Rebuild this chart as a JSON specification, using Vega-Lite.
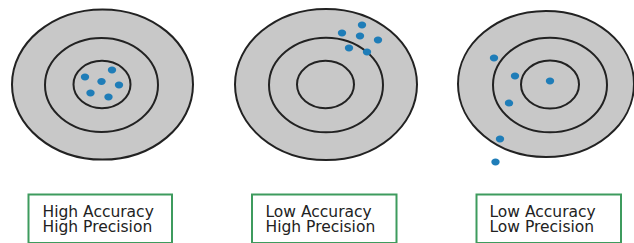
{
  "$schema": "https://vega.github.io/schema/vega-lite/v6.json",
  "width": 634,
  "height": 243,
  "padding": 0,
  "autosize": {"type": "none"},
  "background": "white",
  "config": {"view": {"stroke": null}},
  "datasets": {
    "rings": [
      {"target": "A", "cx": 102.5, "cy": 84.5, "r": 90.5},
      {"target": "A", "cx": 101.5, "cy": 85, "r": 56.5},
      {"target": "A", "cx": 102, "cy": 84.5, "r": 28.5},
      {"target": "B", "cx": 326, "cy": 84.5, "r": 91},
      {"target": "B", "cx": 326, "cy": 85, "r": 57},
      {"target": "B", "cx": 325.5, "cy": 84.5, "r": 28.5},
      {"target": "C", "cx": 546, "cy": 84, "r": 88},
      {"target": "C", "cx": 550, "cy": 85, "r": 57},
      {"target": "C", "cx": 550, "cy": 84.5, "r": 29}
    ],
    "dots": [
      {"target": "A", "x": 85, "y": 77},
      {"target": "A", "x": 112, "y": 70},
      {"target": "A", "x": 101.5, "y": 81.5},
      {"target": "A", "x": 119, "y": 85},
      {"target": "A", "x": 90.5, "y": 93},
      {"target": "A", "x": 108.5, "y": 97},
      {"target": "B", "x": 362, "y": 25},
      {"target": "B", "x": 342, "y": 33},
      {"target": "B", "x": 360, "y": 36},
      {"target": "B", "x": 378, "y": 40},
      {"target": "B", "x": 349, "y": 48},
      {"target": "B", "x": 367, "y": 52},
      {"target": "C", "x": 494, "y": 58},
      {"target": "C", "x": 515, "y": 76},
      {"target": "C", "x": 550, "y": 81},
      {"target": "C", "x": 509, "y": 103},
      {"target": "C", "x": 500, "y": 139},
      {"target": "C", "x": 495.5, "y": 162}
    ],
    "labels": [
      {"target": "A", "left": 28.5, "right": 172, "textx": 42.5, "label": "High Accuracy\nHigh Precision"},
      {"target": "B", "left": 252, "right": 396.5, "textx": 265.5, "label": "Low Accuracy\nHigh Precision"},
      {"target": "C", "left": 476.5, "right": 621, "textx": 489.5, "label": "Low Accuracy\nLow Precision"}
    ]
  },
  "layer": [
    {
      "data": {"name": "rings"},
      "mark": {
        "type": "point",
        "shape": "M-1,0A1,0.83,0,1,1,1,0A1,0.83,0,1,1,-1,0Z",
        "filled": true,
        "fill": "#c8c8c8",
        "stroke": "#222222",
        "strokeWidth": 2,
        "opacity": 1
      },
      "encoding": {
        "x": {"field": "cx", "type": "quantitative", "scale": {"domain": [0, 634], "nice": false, "zero": false}, "axis": null},
        "y": {"field": "cy", "type": "quantitative", "scale": {"domain": [0, 243], "nice": false, "zero": false, "reverse": true}, "axis": null},
        "size": {"field": "r", "type": "quantitative", "scale": {"type": "pow", "exponent": 2, "domain": [0, 100], "range": [0, 40000]}, "legend": null}
      }
    },
    {
      "data": {"name": "dots"},
      "mark": {
        "type": "point",
        "shape": "M-1,0A1,0.83,0,1,1,1,0A1,0.83,0,1,1,-1,0Z",
        "filled": true,
        "fill": "#1f7db8",
        "stroke": null,
        "size": 70,
        "opacity": 1
      },
      "encoding": {
        "x": {"field": "x", "type": "quantitative", "scale": {"domain": [0, 634], "nice": false, "zero": false}, "axis": null},
        "y": {"field": "y", "type": "quantitative", "scale": {"domain": [0, 243], "nice": false, "zero": false, "reverse": true}, "axis": null}
      }
    },
    {
      "data": {"name": "labels"},
      "mark": {"type": "rect", "fill": "white", "stroke": "#3e9b5e", "strokeWidth": 2},
      "encoding": {
        "x": {"field": "left", "type": "quantitative", "scale": {"domain": [0, 634], "nice": false, "zero": false}, "axis": null},
        "x2": {"field": "right"},
        "y": {"datum": 194.5, "type": "quantitative", "scale": {"domain": [0, 243], "nice": false, "zero": false, "reverse": true}, "axis": null},
        "y2": {"datum": 243}
      }
    },
    {
      "data": {"name": "labels"},
      "mark": {
        "type": "text",
        "align": "left",
        "baseline": "alphabetic",
        "font": "DejaVu Sans",
        "fontSize": 15.5,
        "lineHeight": 15,
        "lineBreak": "\n",
        "color": "#222222"
      },
      "encoding": {
        "x": {"field": "textx", "type": "quantitative", "scale": {"domain": [0, 634], "nice": false, "zero": false}, "axis": null},
        "y": {"datum": 217.3, "type": "quantitative", "scale": {"domain": [0, 243], "nice": false, "zero": false, "reverse": true}, "axis": null},
        "text": {"field": "label"}
      }
    }
  ]
}
